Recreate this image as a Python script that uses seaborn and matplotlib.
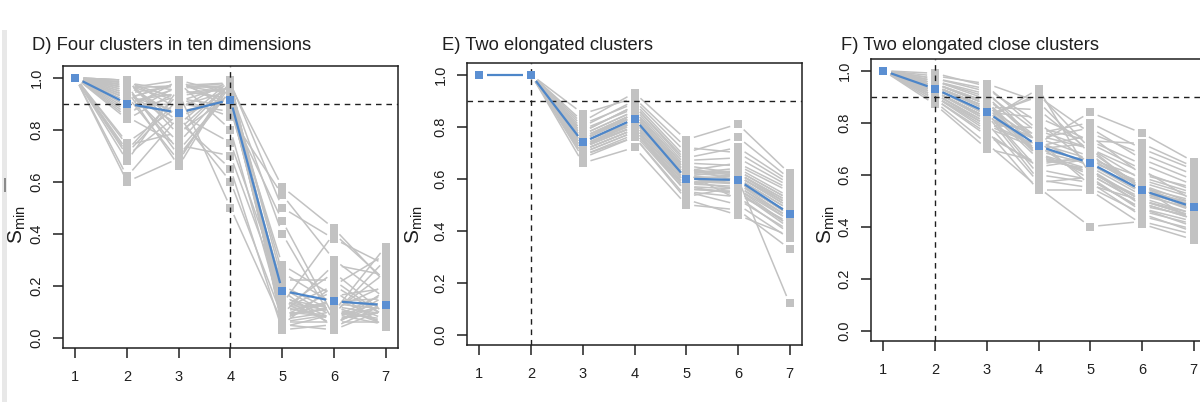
import numpy as np
import pandas as pd
import matplotlib
matplotlib.use("Agg")
import matplotlib.pyplot as plt
import seaborn as sns
from matplotlib.collections import LineCollection
from matplotlib.patches import Rectangle

sns.set_theme(style="white")
plt.rcParams["font.family"] = ["Liberation Sans", "DejaVu Sans"]
plt.rcParams["mathtext.default"] = "regular"

# ---------------- data ----------------
K = [1, 2, 3, 4, 5, 6, 7]
y_ticks = [0.0, 0.2, 0.4, 0.6, 0.8, 1.0]
y_tick_labels = ["0.0", "0.2", "0.4", "0.6", "0.8", "1.0"]

titles = ["D) Four clusters in ten dimensions",
          "E) Two elongated clusters",
          "F) Two elongated close clusters"]
chosen_k = [4, 2, 2]
threshold = 0.9

# Panel D: replicate values at k = 1..7
D_k1 = [1.00, 1.00, 1.00, 1.00, 1.00, 1.00, 1.00, 1.00, 1.00, 1.00, 1.00, 1.00,
        1.00, 1.00, 1.00, 1.00, 1.00, 1.00, 1.00, 1.00, 1.00, 1.00, 1.00, 1.00,
        1.00, 1.00, 1.00, 1.00, 1.00, 1.00, 1.00, 1.00, 1.00, 1.00, 1.00, 1.00]
D_k2 = [0.99, 0.98, 0.97, 0.99, 0.96, 0.95, 0.98, 0.94, 0.93, 0.97, 0.92, 0.99,
        0.91, 0.96, 0.90, 0.89, 0.95, 0.88, 0.98, 0.87, 0.93, 0.86, 0.85, 0.97,
        0.84, 0.94, 0.92, 0.75, 0.72, 0.70, 0.68, 0.74, 0.71, 0.62, 0.60, 0.96]
D_k3 = [0.80, 0.95, 0.70, 0.88, 0.99, 0.75, 0.92, 0.97, 0.68, 0.85, 0.98, 0.78,
        0.94, 0.72, 0.96, 0.90, 0.66, 0.99, 0.83, 0.93, 0.87, 0.97, 0.74, 0.91,
        0.95, 0.82, 0.98, 0.89, 0.94, 0.86, 0.96, 0.79, 0.92, 0.85, 0.69, 0.97]
D_k4 = [0.98, 0.92, 0.95, 0.99, 0.88, 0.97, 0.85, 0.96, 0.99, 0.93, 0.90, 0.98,
        0.50, 0.95, 0.97, 0.87, 0.99, 0.94, 0.65, 0.96, 0.91, 0.98, 0.70, 0.97,
        0.92, 0.99, 0.80, 0.95, 0.96, 0.75, 0.98, 0.93, 0.89, 0.60, 0.97, 0.94]
D_k5 = [0.10, 0.08, 0.15, 0.05, 0.20, 0.12, 0.55, 0.07, 0.04, 0.18, 0.11, 0.09,
        0.06, 0.25, 0.13, 0.45, 0.08, 0.14, 0.03, 0.22, 0.10, 0.50, 0.16, 0.06,
        0.28, 0.12, 0.09, 0.40, 0.07, 0.19, 0.05, 0.11, 0.15, 0.08, 0.58, 0.13]
D_k6 = [0.08, 0.12, 0.05, 0.20, 0.10, 0.07, 0.30, 0.15, 0.09, 0.04, 0.25, 0.11,
        0.06, 0.13, 0.40, 0.08, 0.18, 0.10, 0.05, 0.22, 0.14, 0.38, 0.07, 0.09,
        0.16, 0.12, 0.28, 0.06, 0.10, 0.08, 0.03, 0.20, 0.11, 0.14, 0.42, 0.07]
D_k7 = [0.12, 0.05, 0.18, 0.08, 0.25, 0.10, 0.15, 0.07, 0.30, 0.13, 0.09, 0.20,
        0.06, 0.11, 0.22, 0.14, 0.04, 0.35, 0.16, 0.08, 0.12, 0.28, 0.10, 0.05,
        0.19, 0.09, 0.24, 0.13, 0.07, 0.17, 0.11, 0.32, 0.06, 0.15, 0.21, 0.10]
D_mean = [1.00, 0.90, 0.865, 0.915, 0.18, 0.14, 0.125]

# Panel E
E_k1 = D_k1
E_k2 = [1.00, 1.00, 1.00, 1.00, 1.00, 1.00, 1.00, 1.00, 1.00, 1.00, 1.00, 1.00,
        1.00, 1.00, 1.00, 1.00, 1.00, 1.00, 1.00, 1.00, 1.00, 1.00, 1.00, 1.00,
        1.00, 1.00, 1.00, 1.00, 1.00, 1.00, 1.00, 1.00, 1.00, 1.00, 1.00, 1.00]
E_k3 = [0.72, 0.75, 0.70, 0.78, 0.73, 0.76, 0.68, 0.74, 0.80, 0.71, 0.77, 0.74,
        0.69, 0.82, 0.73, 0.75, 0.72, 0.79, 0.66, 0.76, 0.74, 0.71, 0.85, 0.73,
        0.77, 0.70, 0.75, 0.78, 0.72, 0.74, 0.76, 0.69, 0.73, 0.81, 0.75, 0.71]
E_k4 = [0.82, 0.85, 0.78, 0.88, 0.80, 0.84, 0.76, 0.83, 0.90, 0.79, 0.86, 0.82,
        0.77, 0.93, 0.81, 0.84, 0.80, 0.87, 0.72, 0.85, 0.83, 0.79, 0.91, 0.82,
        0.86, 0.78, 0.84, 0.88, 0.80, 0.83, 0.85, 0.76, 0.81, 0.89, 0.84, 0.79]
E_k5 = [0.60, 0.63, 0.56, 0.66, 0.58, 0.62, 0.53, 0.61, 0.70, 0.57, 0.64, 0.60,
        0.55, 0.75, 0.59, 0.62, 0.58, 0.65, 0.50, 0.63, 0.61, 0.56, 0.72, 0.60,
        0.64, 0.55, 0.62, 0.67, 0.58, 0.61, 0.63, 0.52, 0.59, 0.68, 0.62, 0.57]
E_k6 = [0.58, 0.62, 0.55, 0.65, 0.60, 0.52, 0.57, 0.63, 0.76, 0.54, 0.61, 0.59,
        0.50, 0.81, 0.56, 0.64, 0.60, 0.62, 0.48, 0.66, 0.58, 0.55, 0.70, 0.61,
        0.59, 0.53, 0.63, 0.68, 0.57, 0.60, 0.62, 0.46, 0.58, 0.72, 0.61, 0.56]
E_k7 = [0.47, 0.50, 0.42, 0.55, 0.48, 0.40, 0.45, 0.52, 0.60, 0.43, 0.49, 0.46,
        0.37, 0.62, 0.44, 0.53, 0.12, 0.51, 0.33, 0.56, 0.47, 0.41, 0.58, 0.50,
        0.46, 0.39, 0.52, 0.57, 0.44, 0.48, 0.51, 0.38, 0.45, 0.59, 0.49, 0.42]
E_mean = [1.00, 1.00, 0.74, 0.83, 0.60, 0.595, 0.465]

# Panel F
F_k1 = D_k1
F_k2 = [0.94, 0.92, 0.96, 0.90, 0.93, 0.97, 0.91, 0.95, 0.89, 0.93, 0.98, 0.92,
        0.94, 0.88, 0.95, 0.91, 0.96, 0.93, 0.87, 0.94, 0.92, 0.97, 0.90, 0.95,
        0.93, 0.91, 0.99, 0.94, 0.92, 0.89, 0.96, 0.93, 0.90, 0.95, 0.92, 0.94]
F_k3 = [0.85, 0.82, 0.90, 0.78, 0.84, 0.93, 0.80, 0.87, 0.75, 0.83, 0.95, 0.81,
        0.86, 0.72, 0.88, 0.79, 0.91, 0.84, 0.70, 0.86, 0.82, 0.92, 0.77, 0.87,
        0.83, 0.80, 0.94, 0.85, 0.81, 0.76, 0.89, 0.84, 0.79, 0.88, 0.82, 0.86]
F_k4 = [0.66, 0.75, 0.72, 0.70, 0.62, 0.80, 0.71, 0.68, 0.64, 0.58, 0.88, 0.74,
        0.67, 0.55, 0.70, 0.78, 0.76, 0.60, 0.65, 0.85, 0.73, 0.72, 0.54, 0.68,
        0.90, 0.57, 0.77, 0.69, 0.93, 0.63, 0.74, 0.82, 0.71, 0.67, 0.91, 0.73]
F_k5 = [0.62, 0.70, 0.66, 0.72, 0.58, 0.64, 0.75, 0.60, 0.67, 0.55, 0.68, 0.78,
        0.61, 0.40, 0.65, 0.73, 0.80, 0.57, 0.66, 0.69, 0.63, 0.84, 0.54, 0.62,
        0.76, 0.59, 0.70, 0.64, 0.60, 0.66, 0.67, 0.73, 0.58, 0.61, 0.70, 0.56]
F_k6 = [0.50, 0.58, 0.55, 0.62, 0.47, 0.54, 0.60, 0.49, 0.56, 0.45, 0.53, 0.66,
        0.50, 0.42, 0.57, 0.64, 0.70, 0.44, 0.59, 0.55, 0.52, 0.76, 0.41, 0.48,
        0.68, 0.46, 0.61, 0.53, 0.49, 0.55, 0.56, 0.72, 0.47, 0.51, 0.54, 0.50]
F_k7 = [0.44, 0.52, 0.48, 0.50, 0.40, 0.47, 0.55, 0.43, 0.49, 0.38, 0.46, 0.58,
        0.45, 0.37, 0.51, 0.56, 0.62, 0.39, 0.53, 0.42, 0.47, 0.65, 0.35, 0.44,
        0.60, 0.41, 0.54, 0.48, 0.43, 0.50, 0.46, 0.63, 0.42, 0.45, 0.49, 0.44]
F_mean = [1.00, 0.93, 0.84, 0.71, 0.645, 0.54, 0.475]

panels = [
    ([D_k1, D_k2, D_k3, D_k4, D_k5, D_k6, D_k7], D_mean),
    ([E_k1, E_k2, E_k3, E_k4, E_k5, E_k6, E_k7], E_mean),
    ([F_k1, F_k2, F_k3, F_k4, F_k5, F_k6, F_k7], F_mean),
]

# ---------------- style ----------------
GRAY = "#c2c2c2"
BLUE = "#4d86c9"
BLUE_PT = "#5b8fd2"
INK = "#1f1f1f"
W, H = 1200, 405
GAP_PX = 8.0

fig = plt.figure(figsize=(12, 4.05), dpi=100)
fig.patch.set_facecolor("white")

# light page strip at far left
fig.add_artist(Rectangle((2 / W, 1 - 402 / H), 5 / W, 372 / H, transform=fig.transFigure,
                         facecolor="#e8e8e8", edgecolor="none"))
fig.add_artist(Rectangle((3.5 / W, 1 - 192 / H), 2 / W, 14 / H, transform=fig.transFigure,
                         facecolor="#8a8a8a", edgecolor="none"))

ax_boxes = [(63, 66), (467, 63), (871, 59)]   # left, top in px
AX_W, AX_H = 335, 282
title_x = [32, 442, 841]
ylab_x = [17, 414, 826]


def gapped_segments(ax, xs, ys, gap):
    pts = ax.transData.transform(np.column_stack([xs, ys]))
    inv = ax.transData.inverted()
    segs = []
    for a, b in zip(pts[:-1], pts[1:]):
        d = b - a
        L = np.hypot(d[0], d[1])
        if L <= 2 * gap:
            continue
        u = d / L
        segs.append(inv.transform(np.vstack([a + u * gap, b - u * gap])))
    return segs


XLIM = (0.76, 7.24)
YLIM = (-0.04, 1.045)

for i, ((cols, mean), (lx, ty)) in enumerate(zip(panels, ax_boxes)):
    ax = fig.add_axes([lx / W, 1 - (ty + AX_H) / H, AX_W / W, AX_H / H])
    ax.set_xlim(*XLIM)
    ax.set_ylim(*YLIM)

    n = len(cols[0])
    df = pd.DataFrame({
        "k": np.repeat(K, n),
        "rep": np.tile(np.arange(n), len(K)),
        "smin": np.concatenate([np.asarray(c, float) for c in cols]),
    })

    segs = []
    for r, g in df.groupby("rep"):
        g = g.sort_values("k")
        segs += gapped_segments(ax, g["k"].values, g["smin"].values, GAP_PX)
    ax.add_collection(LineCollection(segs, colors=GRAY, linewidths=1.1, zorder=1),
                      autolim=False)
    sns.scatterplot(data=df, x="k", y="smin", color=GRAY, marker="s", s=34,
                    linewidth=0, ax=ax, zorder=2, legend=False)

    ax.axhline(threshold, color=INK, lw=1.0, ls=(0, (4, 3.5)), zorder=3)
    ax.axvline(chosen_k[i], color=INK, lw=1.0, ls=(0, (4, 3.5)), zorder=3)

    msegs = gapped_segments(ax, np.array(K, float), np.array(mean, float), GAP_PX)
    ax.add_collection(LineCollection(msegs, colors=BLUE, linewidths=1.6, zorder=4),
                      autolim=False)
    sns.scatterplot(x=K, y=mean, color=BLUE_PT, marker="s", s=34, linewidth=0,
                    ax=ax, zorder=5, legend=False)

    ax.set_xlim(*XLIM)
    ax.set_ylim(*YLIM)
    ax.set_xlabel("")
    ax.set_ylabel("")
    ax.set_xticks(K)
    ax.set_xticklabels([str(k) for k in K])
    ax.set_yticks(y_ticks)
    ax.set_yticklabels(y_tick_labels, rotation=90, va="center")
    ax.tick_params(axis="both", which="major", bottom=True, left=True, direction="out",
                   length=7, width=1.1, color=INK, labelsize=10.5, labelcolor=INK)
    ax.tick_params(axis="x", pad=9)
    ax.tick_params(axis="y", pad=7)
    for sp in ax.spines.values():
        sp.set_visible(True)
        sp.set_color(INK)
        sp.set_linewidth(1.1)
    ax.set_facecolor("white")

    fig.text(title_x[i] / W, 1 - 45 / H, titles[i], fontsize=13.2, color=INK,
             ha="left", va="center")
    fig.text(ylab_x[i] / W, 1 - 225 / H, r"$S_{min}$", fontsize=15, color=INK,
             rotation=90, ha="center", va="center")

fig.savefig("out.png", dpi=100, facecolor="white")
